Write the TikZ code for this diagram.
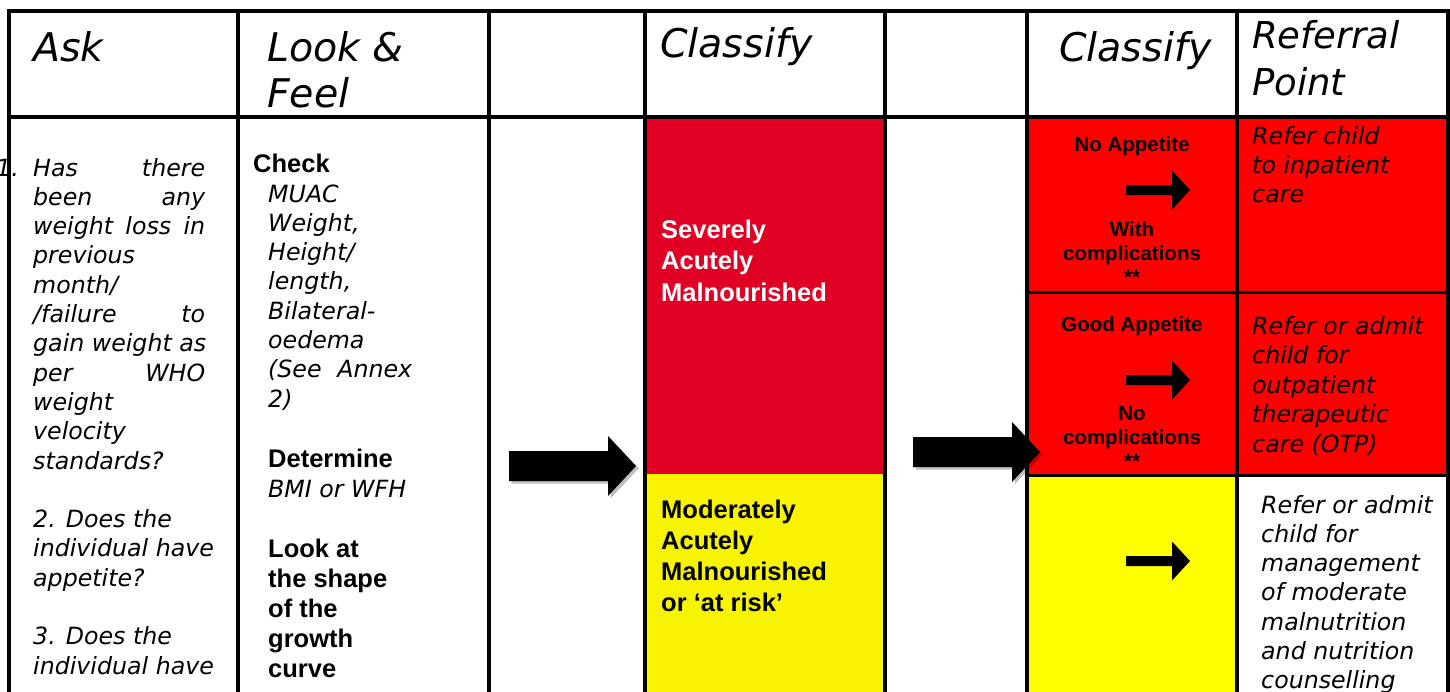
\documentclass[tikz,border=0pt]{standalone}
\usepackage{fontspec}
\usetikzlibrary{shadows}
\newfontfamily\vfam{DejaVu Sans}
\newfontfamily\tfam{Liberation Sans}
\definecolor{samred}{RGB}{224,0,36}
\definecolor{mamyellow}{RGB}{248,243,0}
\definecolor{cellred}{RGB}{255,0,0}
\definecolor{cellyellow}{RGB}{255,255,0}

% fonts
\newcommand\headfont{\vfam\itshape\fontsize{39.5}{46}\selectfont}
\newcommand\bodyit{\vfam\itshape\fontsize{23.7}{29.3}\selectfont}
\newcommand\bodybf[2]{\tfam\bfseries\fontsize{#1}{#2}\selectfont}
% paragraph boxes whose baseline is the first line's baseline
\newcommand\cellpar[3]{\vtop{\hsize=#1\relax #2\parindent=0pt\raggedright\leavevmode #3\par}}
\newcommand\cellctr[3]{\vtop{\hsize=#1\relax #2\parindent=0pt\centering\leavevmode #3\par}}

\tikzset{
  txt/.style={inner sep=0pt, anchor=base west},
  ctxt/.style={inner sep=0pt, anchor=base},
  grid/.style={line width=4pt, line cap=rect},
  split/.style={line width=3pt},
  bigarrow/.style={fill=black, drop shadow={shadow xshift=2.5pt, shadow yshift=-2.5pt, fill=black, opacity=0.25}},
  smallarrow/.style={fill=black}
}

\begin{document}
\begin{tikzpicture}[x=1pt,y=-1pt]
\useasboundingbox (0,0) rectangle (1450,691);
\fill[white] (0,0) rectangle (1450,691);

% coloured cells
\fill[samred] (645,117) rectangle (885,474);
\fill[mamyellow] (645,474) rectangle (885,700);
\fill[cellred] (1027,117) rectangle (1448,475);
\fill[cellyellow] (1027,475) rectangle (1237,700);

% header texts
\node[txt] (hask) at (33,61) {\headfont Ask};
\node[txt] (hlook) at (267,61) {\cellpar{200pt}{\headfont}{Look \&\\Feel}};
\node[txt] (hclassa) at (660,57) {\headfont Classify};
\node[txt] (hclassb) at (1059,61) {\headfont Classify};
\node[txt] (hrefer) at (1252,48) {\cellpar{190pt}{\vfam\itshape\fontsize{37}{47.5}\selectfont}{Referral\\Point}};

% Ask column
\node[inner sep=0pt, anchor=base east] (asknum) at (19,176) {\bodyit 1.};
\node[txt] (askq) at (33,176) {\cellpar{200pt}{\bodyit}{%
  \makebox[172pt][s]{Has there}\\
  \makebox[172pt][s]{been any}\\
  \makebox[172pt][s]{weight loss in}\\
  previous\\
  month/\\
  \makebox[172pt][s]{/failure to}\\
  gain weight as\\
  \makebox[172pt][s]{per WHO}\\
  weight\\
  velocity\\
  standards?\\[29.3pt]
  2. Does the\\
  individual have\\
  appetite?\\[29.3pt]
  3. Does the\\
  individual have}};

% Look & Feel column
\node[txt] (lfcheck) at (253,172) {\bodybf{25.5}{30}Check};
\node[txt] (lfmeas) at (268,202) {\cellpar{200pt}{\bodyit}{%
  MUAC\\Weight,\\Height/\\length,\\Bilateral-\\oedema\\
  \makebox[144pt][s]{(See Annex}\\2)}};
\node[txt] (lfdet) at (268,467) {\bodybf{25.5}{30}Determine};
\node[txt] (lfbmi) at (268,497) {\bodyit BMI or WFH};
\node[txt] (lflook) at (268,557) {\cellpar{200pt}{\bodybf{25.5}{30}}{%
  Look at\\the shape\\of the\\growth\\curve}};

% first classification
\node[txt] (sam) at (661,238) {\cellpar{220pt}{\bodybf{25.5}{31.5}}{%
  \color{white}Severely\\Acutely\\Malnourished}};
\node[txt] (mam) at (661,518) {\cellpar{220pt}{\bodybf{25.5}{31.3}}{%
  Moderately\\Acutely\\Malnourished\\or ‘at risk’}};

% second classification
\node[ctxt] (noapp) at (1132,151) {\bodybf{20.5}{24}No Appetite};
\node[ctxt] (withc) at (1132,236) {\cellctr{200pt}{\bodybf{20.5}{24}}{With\\complications\\{}**}};
\node[ctxt] (goodapp) at (1132,331) {\bodybf{20.5}{24}Good Appetite};
\node[ctxt] (noc) at (1132,420) {\cellctr{200pt}{\bodybf{20.5}{24}}{No\\complications\\{}**}};

% referral points
\node[txt] (refin) at (1252,144) {\cellpar{190pt}{\bodyit}{Refer child\\to inpatient\\care}};
\node[txt] (refotp) at (1252,334) {\cellpar{190pt}{\vfam\itshape\fontsize{23.7}{29.5}\selectfont}{%
  Refer or admit\\child for\\outpatient\\therapeutic\\care (OTP)}};
\node[txt] (refmam) at (1261,513) {\cellpar{190pt}{\bodyit}{%
  Refer or admit\\child for\\management\\of moderate\\malnutrition\\and nutrition\\counselling}};

% table rules
\draw[grid] (9,11) -- (1448,11);
\draw[grid] (9,117) -- (1448,117);
\foreach \cx in {9,238,489,645,885,1027,1237,1448}
  \draw[grid] (\cx,11) -- (\cx,700);
\draw[split] (1027,292) -- (1448,292);
\draw[split] (1027,475) -- (1448,475);

% block arrows between the columns
\fill[bigarrow] (509,451) -- (608,451) -- (608,436) -- (636,466)
  -- (608,496) -- (608,481) -- (509,481) -- cycle;
\fill[bigarrow] (913,437) -- (1012,437) -- (1012,422) -- (1040,452)
  -- (1012,482) -- (1012,467) -- (913,467) -- cycle;

% arrows inside the classification cells
\foreach \yc in {190,380,561}
  \fill[smallarrow] (1126,\yc-5) -- (1172,\yc-5) -- (1172,\yc-19.5) -- (1190,\yc)
    -- (1172,\yc+19.5) -- (1172,\yc+5) -- (1126,\yc+5) -- cycle;
\end{tikzpicture}
\end{document}
